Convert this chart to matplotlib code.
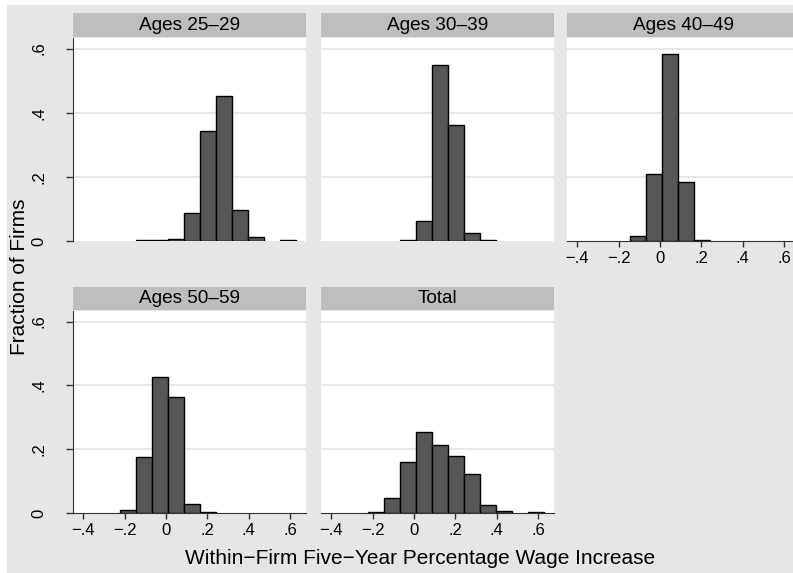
import matplotlib
matplotlib.use("Agg")
import matplotlib.pyplot as plt
from matplotlib.patches import Rectangle

plt.rcParams['font.family'] = ['Liberation Sans', 'DejaVu Sans']

# histogram bins shared by all panels
bin_start = -0.2226
bin_width = 0.0775

panel_titles = ["Ages 25–29", "Ages 30–39", "Ages 40–49", "Ages 50–59", "Total"]

# fraction of firms per bin
ages_25_29 = [0.0, 0.002, 0.003, 0.006, 0.086, 0.342, 0.453, 0.096, 0.012, 0.0, 0.002]
ages_30_39 = [0.0, 0.0, 0.002, 0.063, 0.549, 0.361, 0.024, 0.002, 0.0, 0.0, 0.0]
ages_40_49 = [0.0, 0.016, 0.209, 0.583, 0.185, 0.004, 0.0, 0.0, 0.0, 0.0, 0.0]
ages_50_59 = [0.010, 0.176, 0.425, 0.364, 0.029, 0.002, 0.0, 0.0, 0.0, 0.0, 0.0]
total = [0.003, 0.047, 0.160, 0.254, 0.214, 0.179, 0.121, 0.025, 0.005, 0.0, 0.002]

x_ticks = [-0.4, -0.2, 0, 0.2, 0.4, 0.6]
x_tick_labels = ["−.4", "−.2", "0", ".2", ".4", ".6"]
y_ticks = [0, 0.2, 0.4, 0.6]
y_tick_labels = ["0", ".2", ".4", ".6"]

W, H = 793, 573
BG = "#e6e6e6"
STRIP = "#bebebe"
BAR = "#575757"
AXC = "#333333"

fig = plt.figure(figsize=(W / 100, H / 100), dpi=100)
fig.patch.set_facecolor("white")
fig.patches.append(Rectangle((7 / W, 0), 1, 1 - 5 / H, transform=fig.transFigure,
                             facecolor=BG, edgecolor="none", zorder=-10))


def px_axes(left, top, right, bottom):
    return fig.add_axes([left / W, 1 - bottom / H, (right - left) / W, (bottom - top) / H])


cols = [(73, 306), (321, 554), (567, 800)]
rows = [((13, 37), (38, 241)), ((287, 310), (311, 513))]

# (data, row, col, show x axis, show y axis)
layout = [
    (ages_25_29, 0, 0, False, True),
    (ages_30_39, 0, 1, False, False),
    (ages_40_49, 0, 2, True, False),
    (ages_50_59, 1, 0, True, True),
    (total, 1, 1, True, False),
]

for title, (vals, r, c, show_x, show_y) in zip(panel_titles, layout):
    (h_top, h_bot), (p_top, p_bot) = rows[r]
    left, right = cols[c]

    # header strip
    hax = px_axes(left, h_top, right, h_bot)
    hax.set_facecolor(STRIP)
    hax.set_xticks([])
    hax.set_yticks([])
    for s in hax.spines.values():
        s.set_visible(False)
    hax.text(0.5, 0.5, title, ha="center", va="center", fontsize=13.7,
             transform=hax.transAxes)

    ax = px_axes(left, p_top, right, p_bot)
    ax.set_facecolor("white")
    lefts = [bin_start + i * bin_width for i in range(len(vals))]
    xs = [x for x, v in zip(lefts, vals) if v > 0]
    hs = [v for v in vals if v > 0]
    ax.bar(xs, hs, width=bin_width, align="edge", color=BAR,
           edgecolor="black", linewidth=1.0, zorder=3)
    ax.set_xlim(-0.45, 0.678)
    ax.set_ylim(0, 0.633)
    for yv in [0.2, 0.4, 0.6]:
        ax.axhline(yv, color="#e3e3e3", linewidth=1.2, zorder=1)

    for s in ["top", "right"]:
        ax.spines[s].set_visible(False)

    if show_x:
        ax.spines["bottom"].set_color(AXC)
        ax.set_xticks(x_ticks)
        ax.set_xticklabels(x_tick_labels)
        ax.tick_params(axis="x", direction="out", length=4.5, width=1,
                       color=AXC, labelsize=12, pad=3)
    else:
        ax.spines["bottom"].set_visible(False)
        ax.set_xticks([])

    if show_y:
        ax.spines["left"].set_color(AXC)
        ax.set_yticks(y_ticks)
        ax.set_yticklabels(y_tick_labels, rotation=90, va="center")
        ax.tick_params(axis="y", direction="out", length=5, width=1,
                       color=AXC, labelsize=12, pad=14)
    else:
        ax.spines["left"].set_visible(False)
        ax.set_yticks([])

fig.text(20 / W, 1 - 277 / H, "Fraction of Firms", rotation=90,
         ha="center", va="center", fontsize=15)
fig.text(420 / W, 1 - 559 / H, "Within−Firm Five−Year Percentage Wage Increase",
         ha="center", va="center", fontsize=15)

fig.savefig("out.png", dpi=100, facecolor=fig.get_facecolor())
